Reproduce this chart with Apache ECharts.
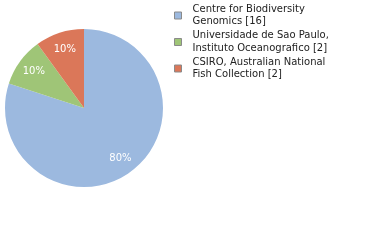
<!DOCTYPE html>
<html><head><meta charset="utf-8">
<script src="https://cdn.jsdelivr.net/npm/echarts@6/dist/echarts.min.js"></script>
<style>html,body{margin:0;padding:0;background:#fff}#c{width:380px;height:240px}</style>
</head><body><div id="c"></div>
<script>
const categories = ["Centre for Biodiversity\nGenomics [16]", "Universidade de Sao Paulo,\nInstituto Oceanografico [2]", "CSIRO, Australian National\nFish Collection [2]"];
const values = [16, 2, 2];
const colors = ["#9cb9df", "#9fc577", "#db7759"];
const chart = echarts.init(document.getElementById('c'), null, {renderer: 'canvas'});
const pieData = categories.map((n, i) => ({name: n, value: values[i], itemStyle: {color: colors[i]}}));
chart.setOption({
  animation: false,
  legend: {
    orient: 'vertical', left: 174, top: 3, padding: 0,
    itemWidth: 7, itemHeight: 7, itemGap: 1.5, icon: 'rect',
    itemStyle: {borderColor: '#8a8a8a', borderWidth: 1},
    textStyle: {fontFamily: 'DejaVu Sans', fontSize: 10, color: '#222', lineHeight: 12.5, padding: [0,0,0,6]},
    data: categories
  },
  series: [{
    type: 'pie', center: [84, 108], radius: 79, startAngle: 90, clockwise: true,
    itemStyle: {borderWidth: 0},
    label: {show: false},
    labelLine: {show: false},
    data: pieData
  }, {
    type: 'pie', center: [84, 108], radius: [39, 79], startAngle: 90, clockwise: true, silent: true,
    itemStyle: {color: 'rgba(0,0,0,0)', borderWidth: 0},
    label: {position: 'inside', formatter: '{d}%', color: '#fff', fontFamily: 'DejaVu Sans', fontSize: 10},
    labelLine: {show: false},
    data: categories.map((n, i) => ({name: n, value: values[i], itemStyle: {color: 'rgba(0,0,0,0)'}}))
  }]
});
</script></body></html>
